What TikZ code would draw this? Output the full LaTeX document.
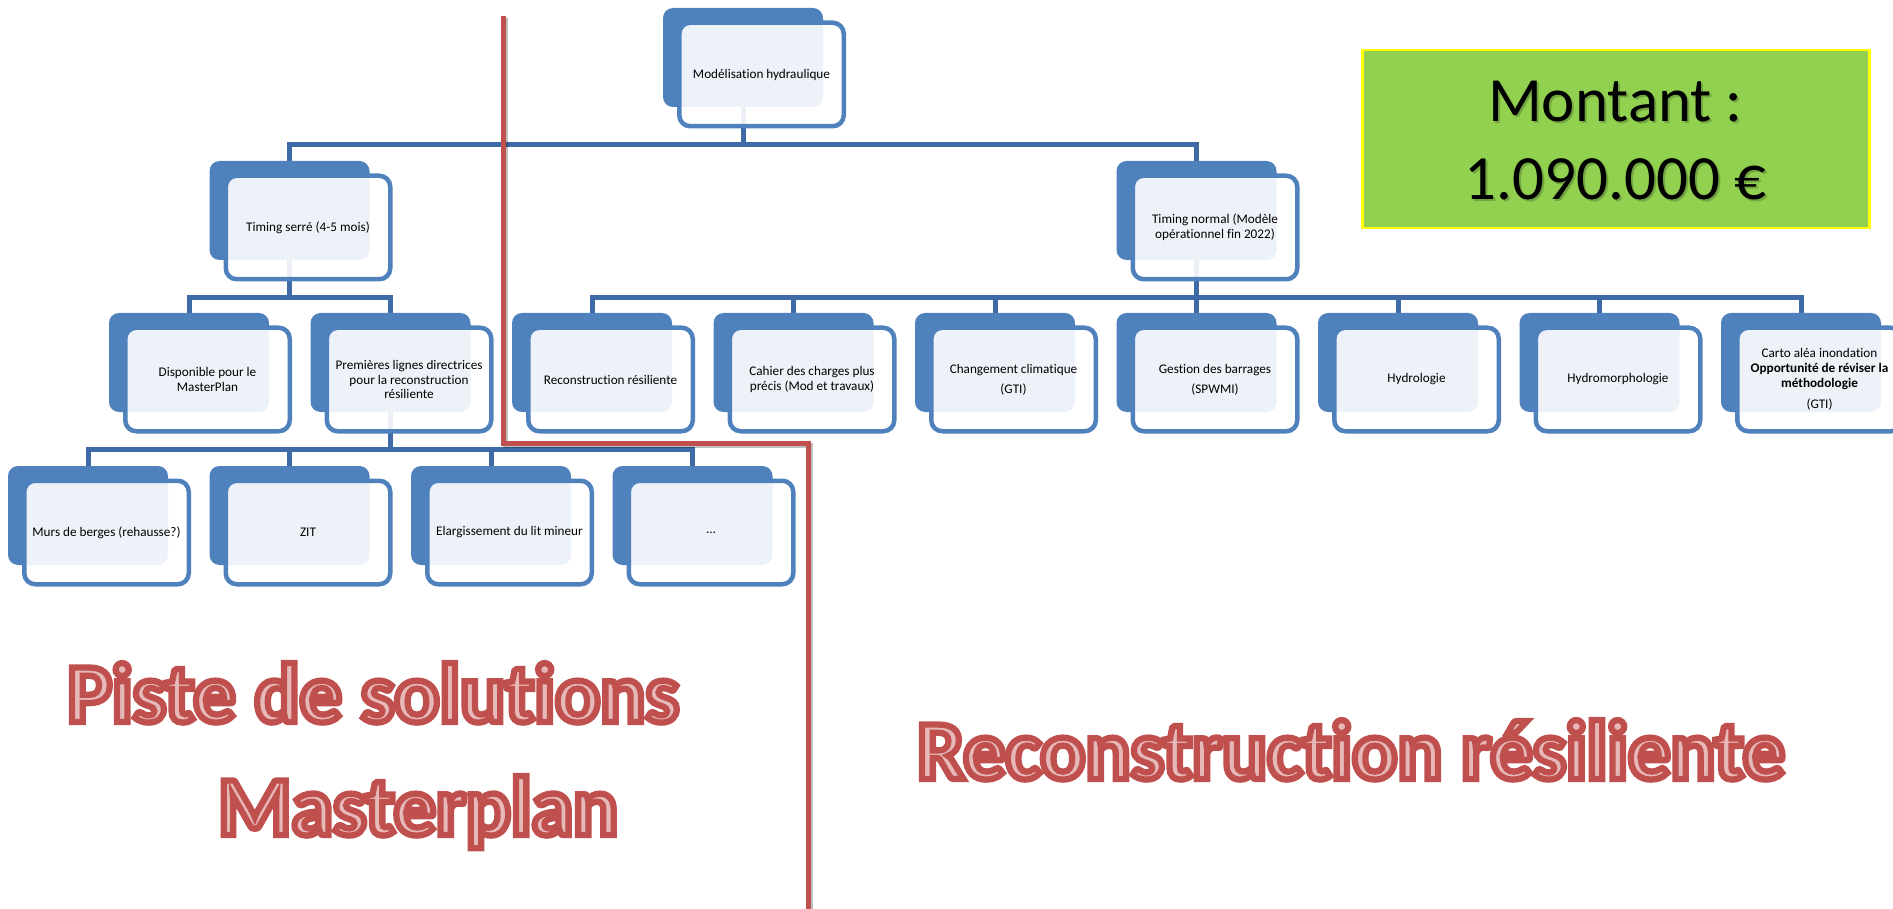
\documentclass[tikz,border=0pt]{standalone}
\usepackage{fontspec}
\setmainfont{Carlito}[Ligatures=NoCommon]
\newfontface\redfont{Carlito Bold}[FakeBold=7.5, Ligatures=NoCommon]
\usetikzlibrary{backgrounds}
\definecolor{sblue}{HTML}{4F81BD}
\definecolor{cblue}{RGB}{62,107,165}
\definecolor{sred}{HTML}{C0504D}
\definecolor{spink}{HTML}{E6B9B8}
\definecolor{sgreen}{HTML}{92D050}
\definecolor{syellow}{HTML}{FFFF00}
\tikzset{
  backbox/.style={fill=sblue, draw=none, rounded corners=10pt, minimum width=160pt, minimum height=99pt, inner sep=0pt},
  frontbox/.style={draw=sblue, line width=4.5pt, fill=white, fill opacity=0.9, text opacity=1, rounded corners=11pt,
    minimum width=164.5pt, minimum height=103.5pt, inner sep=0pt, align=center, text=black,
    font=\fontsize{13.2}{14.7}\selectfont},
  conn/.style={draw=cblue, line width=5pt},
  redline/.style={draw=sred, line width=5pt},
  redshadow/.style={draw=black, opacity=0.25, line width=4.5pt},
  bigred/.style={font=\redfont\fontsize{84}{100}\selectfont, text=spink, inner sep=0pt, anchor=base},
  montxt/.style={font=\fontsize{63}{78}\selectfont, inner sep=0pt, anchor=base},
}
\newcommand\twinbox[4]{%
  \node[backbox] (#1) at (#2,-#3) {};
  \node[frontbox] (#1f) at ([shift={(18.5,-17)}]#1.center) {#4};
}
\newcommand\redtext[1]{\pgfsetstrokecolor{sred}#1}
\begin{document}
\begin{tikzpicture}[x=1pt,y=1pt]
\useasboundingbox (0,0) rectangle (1893,-909);
\clip (0,0) rectangle (1893,-909);

% level 0
\twinbox{n0}{743}{57.5}{Modélisation hydraulique}
% level 1
\twinbox{na}{289.5}{210.5}{Timing serré (4-5 mois)}
\twinbox{nb}{1196.5}{210.5}{Timing normal (Modèle\\opérationnel fin 2022)}
% level 2
\twinbox{nc}{189}{362.5}{Disponible pour le\\MasterPlan}
\twinbox{nd}{390.5}{362.5}{Premières lignes directrices\\pour la reconstruction\\résiliente}
\twinbox{ne}{592}{362.5}{Reconstruction résiliente}
\twinbox{nf}{793.5}{362.5}{Cahier des charges plus\\précis (Mod et travaux)}
\twinbox{ng}{995}{362.5}{Changement climatique\\[5pt](GTI)}
\twinbox{nh}{1196.5}{362.5}{Gestion des barrages\\[5pt](SPWMI)}
\twinbox{ni}{1398}{362.5}{Hydrologie}
\twinbox{nj}{1599.5}{362.5}{Hydromorphologie}
\twinbox{nk}{1801}{362.5}{Carto aléa inondation\\\textbf{Opportunité de réviser la}\\\textbf{méthodologie}\\[7pt](GTI)}
% level 3
\twinbox{nl}{88}{515.5}{Murs de berges (rehausse?)}
\twinbox{nm}{289.5}{515.5}{ZIT}
\twinbox{nn}{491}{515.5}{Elargissement du lit mineur}
\twinbox{no}{692.5}{515.5}{...}

\begin{scope}[on background layer]
  \foreach \p/\c in {n0/na, n0/nb, na/nc, na/nd, nb/ne, nb/nf, nb/ng, nb/nh, nb/ni, nb/nj, nb/nk,
                     nd/nl, nd/nm, nd/nn, nd/no}
    \draw[conn] (\p.south) -- ++(0,-37) -| (\c.north);
\end{scope}

% amount box
\node[draw=syellow, line width=2.5pt, fill=sgreen, minimum width=507pt, minimum height=178pt, inner sep=0pt] (mont) at (1616,-139) {};
\node[montxt, text=black, opacity=0.2] (mt1s) at (1617.5,-124) {Montant :};
\node[montxt, text=black, opacity=0.2] (mt2s) at (1617.5,-202) {1.090.000 €};
\node[montxt, text=black] (mt1) at (1615.5,-122) {Montant :};
\node[montxt, text=black] (mt2) at (1615.5,-200) {1.090.000 €};

% red separator
\coordinate (r1) at (503,-16);
\coordinate (r2) at (503,-443);
\coordinate (r3) at (808,-443);
\coordinate (r4) at (808,-915);
\draw[redshadow] ([shift={(2.5,-2.5)}]r1) -- ([shift={(2.5,-2.5)}]r2) -- ([shift={(2.5,-2.5)}]r3) -- ([shift={(2.5,-2.5)}]r4);
\draw[redline] (r1) -- (r2) -- (r3) -- (r4);

% big labels
\node[bigred] (t1) at (373,-722) {\redtext{Piste de solutions}};
\node[bigred] (t2) at (418,-835) {\redtext{Masterplan}};
\node[bigred] (t3) at (1351,-779) {\redtext{Reconstruction résiliente}};
\end{tikzpicture}
\end{document}
